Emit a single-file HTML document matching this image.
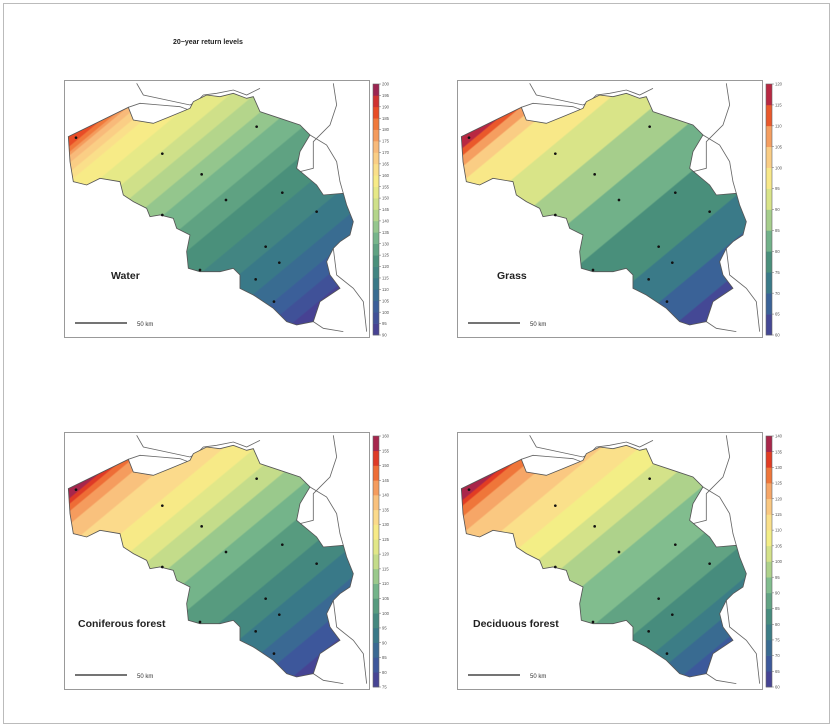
<!DOCTYPE html>
<html><head><meta charset="utf-8">
<style>
html,body{margin:0;padding:0;background:#fff;}
svg{display:block;font-family:"Liberation Sans",sans-serif;}
</style></head>
<body>
<svg id="s" width="836" height="727" xmlns="http://www.w3.org/2000/svg">
<rect x="3.5" y="3.5" width="826" height="720" fill="#fff" stroke="#bbb" stroke-width="1"/>
<text x="173" y="44" font-size="7" font-weight="bold" fill="#222">20−year return levels</text>
</svg>
<script>
const NS="http://www.w3.org/2000/svg";
const S=document.getElementById('s');
const pal=[[0,'#4b3a90'],[0.1,'#3b5b9c'],[0.2,'#387889'],[0.3,'#4b917a'],[0.4,'#7dbb8e'],[0.5,'#c4dc8a'],[0.6,'#f6ef86'],[0.68,'#fbd98b'],[0.76,'#f8b677'],[0.84,'#f07a3c'],[0.9,'#e63f1f'],[0.95,'#c42a3c'],[1,'#7b2062']];
function hx(c){return [1,3,5].map(i=>parseInt(c.substr(i,2),16));}
function col(t){t=Math.max(0,Math.min(1,t));for(let i=1;i<pal.length;i++){if(t<=pal[i][0]){const a=pal[i-1],b=pal[i];const f=(t-a[0])/(b[0]-a[0]);const A=hx(a[1]),B=hx(b[1]);return 'rgb('+A.map((v,k)=>Math.round(v+(B[k]-v)*f)).join(',')+')';}}return pal[pal.length-1][1];}
const outline=[[25,185],[205,97],[220,135],[280,145],[330,125],[390,100],[400,80],[440,60],[480,65],[520,55],[560,70],[580,65],[600,110],[660,130],[720,150],[750,180],[720,230],[710,280],[770,330],[790,360],[850,355],[860,390],[880,440],[870,480],[840,500],[820,520],[800,560],[810,600],[840,640],[780,680],[760,740],[710,750],[680,740],[640,700],[580,660],[540,640],[540,600],[520,580],[480,590],[420,590],[385,580],[380,530],[390,480],[350,460],[340,430],[300,420],[270,425],[260,400],[220,380],[190,360],[180,320],[120,310],[80,330],[40,320],[30,260]];
const borders=[
[[230,25],[250,60],[320,75],[390,90],[410,80],[430,60],[470,55],[520,45],[560,60],[600,40]],
[[205,97],[240,85],[300,90],[360,95],[400,110],[410,130]],
[[820,25],[830,90],[810,150],[760,200],[760,280],[720,290]],
[[750,180],[800,210],[830,260],[840,320],[850,355]],
[[820,520],[830,600],[880,640],[910,680],[920,770]],
[[760,740],[790,760],[850,770]]];
const dots=[[48,188],[590,155],[307,236],[425,298],[667,353],[498,375],[307,420],[770,410],[617,515],[658,563],[420,585],[587,613],[642,680]];
function el(n,a,p){const e=document.createElementNS(NS,n);for(const k in a)e.setAttribute(k,a[k]);(p||S).appendChild(e);return e;}
const panels=[
{ox:64,oy:80,name:'Water',lx:111,ly:279,max:200,min:90,prof:[188,172,160,148,135,125,117,108,93]},
{ox:457,oy:80,name:'Grass',lx:497,ly:279,max:120,min:60,prof:[118,108,100,93,87,81,77,71,63]},
{ox:64,oy:432,name:'Coniferous forest',lx:78,ly:627,max:160,min:75,prof:[158,145,137,128,116,106,99,90,79]},
{ox:457,oy:432,name:'Deciduous forest',lx:473,ly:627,max:140,min:60,prof:[138,127,120,111,101,93,88,80,68]}];
const sp=[0,.04,.1,.25,.4,.55,.7,.85,1];
const d=[0.64,0.77], p0=176, p1=1032;
panels.forEach((P,i)=>{
 const g=el('g',{transform:`translate(${P.ox},${P.oy})`});
 el('rect',{x:0.5,y:0.5,width:305,height:257,fill:'#fff',stroke:'#999','stroke-width':1},g);
 const defs=el('defs',{},g);
 const lg=el('linearGradient',{id:'g'+i,gradientUnits:'userSpaceOnUse',x1:d[0]*p0,y1:d[1]*p0,x2:d[0]*p1,y2:d[1]*p1},defs);
 const N=200;
 for(let k=0;k<=N;k++){const s=k/N;let j=0;while(j<sp.length-2&&s>sp[j+1])j++;const f=(s-sp[j])/(sp[j+1]-sp[j]);const v=P.prof[j]+(P.prof[j+1]-P.prof[j])*f;
  const b=Math.floor((v-P.min)/5);const nb=(P.max-P.min)/5;const t=(b+0.5)/nb;
  el('stop',{offset:s,'stop-color':col(t)},lg);}
 const inner=el('g',{transform:'translate(-4,-5) scale(0.3333)'},g);
 borders.forEach(b=>el('polyline',{points:b.map(p=>p.join(',')).join(' '),fill:'none',stroke:'#666','stroke-width':2.5},inner));
 el('polygon',{points:outline.map(p=>p.join(',')).join(' '),fill:`url(#g${i})`,stroke:'#555','stroke-width':2.5},inner);
 dots.forEach(q=>el('circle',{cx:q[0],cy:q[1],r:4,fill:'#111'},inner));
 el('line',{x1:11,y1:243,x2:63,y2:243,stroke:'#222','stroke-width':1.2},g);
 el('text',{x:73,y:246,'font-size':6,fill:'#333'},g).textContent='50 km';
 el('text',{x:P.lx-P.ox,y:P.ly-P.oy,'font-size':10.5,'font-weight':'bold',fill:'#222'},g).textContent=P.name;
 const nb=(P.max-P.min)/5, top=4, h=251, bw=h/nb;
 for(let k=0;k<nb;k++){el('rect',{x:309,y:top+h-(k+1)*bw,width:6,height:bw+0.3,fill:col((k+0.5)/nb)},g);}
 el('rect',{x:309,y:top,width:6,height:h,fill:'none',stroke:'#666','stroke-width':0.6},g);
 for(let k=0;k<=nb;k++){const y=top+h-k*bw;el('line',{x1:315,y1:y,x2:317,y2:y,stroke:'#666','stroke-width':0.5},g);
  el('text',{x:318,y:y+1.6,'font-size':4.2,fill:'#555'},g).textContent=P.min+5*k;}
});
</script>
</body></html>
